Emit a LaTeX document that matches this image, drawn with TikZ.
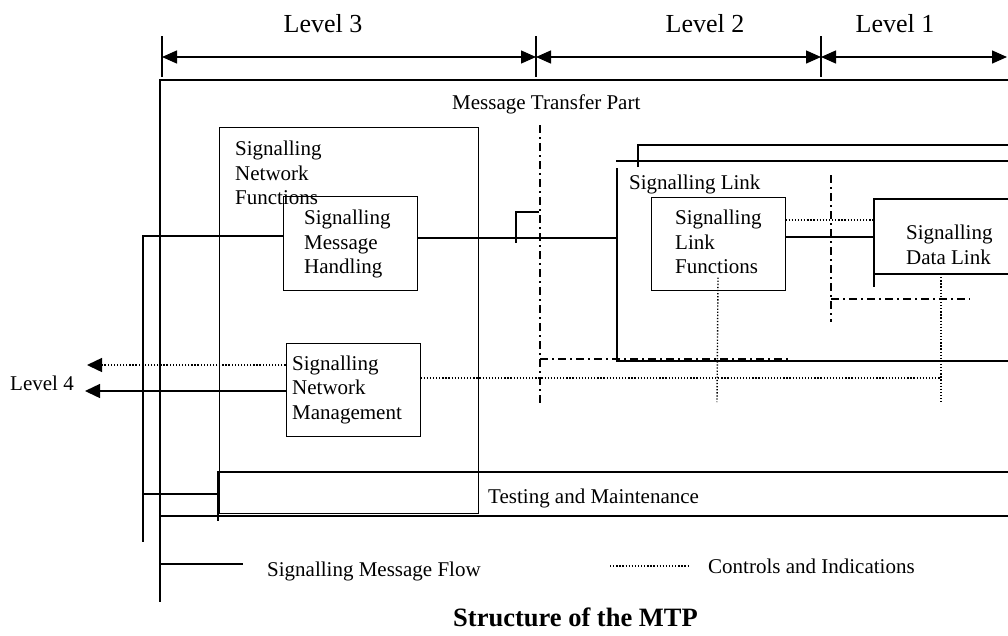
\documentclass[tikz,border=0pt]{standalone}
\usepackage{fontspec}
\setmainfont{Liberation Serif}
\usetikzlibrary{arrows.meta}
\begin{document}
\begin{tikzpicture}[x=1pt,y=-1pt,
  ln/.style={line width=1.4pt},
  bx/.style={draw, line width=1pt, inner sep=0pt},
  dotl/.style={line width=1.4pt, dash pattern=on 1.3pt off 1.8pt},
  dashdot/.style={line width=1.3pt, dash pattern=on 8pt off 4pt on 1.5pt off 4.5pt},
  lvl/.style={ln, {Triangle[length=15pt,width=13pt]}-{Triangle[length=15pt,width=13pt]}},
  txt/.style={inner sep=0pt, font=\fontsize{21}{24.5}\selectfont, align=left, anchor=north west},
  one/.style={inner sep=0pt, font=\fontsize{21}{24.5}\selectfont, anchor=base west},
  lvltxt/.style={inner sep=0pt, font=\fontsize{26}{30}\selectfont, anchor=base},
]
\useasboundingbox (0,0) rectangle (1008,635);

% ---- level bar
\coordinate (t3) at (162,57);
\coordinate (t2) at (536,57);
\coordinate (t1) at (821,57);
\coordinate (tE) at (1007,57);
\draw[ln] (162,36) -- (162,77) (536,36) -- (536,77) (821,36) -- (821,77);
\draw[lvl] (t3) -- (t2);
\draw[lvl] (t2) -- (t1);
\draw[lvl] (t1) -- (tE);
\node[lvltxt] (l3) at (323,32) {Level 3};
\node[lvltxt] (l2) at (705,32) {Level 2};
\node[lvltxt] (l1) at (895,32) {Level 1};

% ---- Message Transfer Part frame
\draw[ln] (1008,80) -- (160,80) -- (160,602);
\draw[ln] (160,516) -- (1008,516);
\node[one] (mtp) at (452,109) {Message Transfer Part};

% ---- Signalling Network Functions
\draw[line width=1pt] (219,127) rectangle (478,513);
\node[txt] (snf) at (235,141) {Signalling\\Network\\Functions};

\node[bx, minimum width=134pt, minimum height=94pt] (smh) at (350,243) {};
\node[txt] (smht) at (304,210) {Signalling\\Message\\Handling};

\node[bx, minimum width=134pt, minimum height=93pt] (snm) at (353,389.5) {};
\node[txt] (snmt) at (292,355.5) {Signalling\\Network\\Management};

% ---- Signalling Link
\draw[ln] (616,161) -- (1008,161);
\draw[ln] (638,167) -- (638,145) -- (1008,145);
\draw[ln] (617,168) -- (617,361) -- (1008,361);
\node[one] (slt) at (629,189) {Signalling Link};

\node[bx, minimum width=134pt, minimum height=93pt] (slf) at (718,243.5) {};
\node[txt] (slft) at (675,210) {Signalling\\Link\\Functions};

% ---- Signalling Data Link
\draw[ln] (1008,199) -- (874,199) -- (874,287);
\draw[ln] (874,274) -- (1008,274);
\node[txt] (sdlt) at (906,225) {Signalling\\Data Link};
\coordinate (sdlA) at (874,220);
\coordinate (sdlB) at (874,237);

% ---- Testing and Maintenance
\draw[ln] (1008,472) -- (218,472) -- (218,521);
\node[one] (tm) at (488,503) {Testing and Maintenance};

% ---- level boundaries (dash-dot)
\draw[dashdot] (540,125) -- (540,404);
\draw[dashdot] (540,359) -- (789,359);
\draw[dashdot] (831,175) -- (831,322);
\draw[dashdot] (831,299) -- (970,299);

% ---- message flow
\coordinate (bus) at (143,542);
\coordinate (busT) at (143,494);
\coordinate (tmL) at (218,494);
\coordinate (sl) at (617,238);
\draw[ln] ([yshift=7pt]smh.west) -| (bus);
\draw[ln] (busT) -- (tmL);
\draw[ln] ([yshift=5pt]smh.east) -- (sl);
\draw[ln] (539,212) -- (516,212) -- (516,243);
\draw[ln] ([yshift=6.5pt]slf.east) -- (sdlB);
\draw[dotl] ([yshift=23.5pt]slf.east) -- (sdlA);

% ---- level 4
\coordinate (l4a) at (85,391);
\coordinate (l4b) at (87,365);
\draw[ln,-{Triangle[length=15pt,width=14pt]}] ([yshift=-1.5pt]snm.west) -- (l4a);
\draw[dotl,-{Triangle[length=15pt,width=14pt]}] ([yshift=24.5pt]snm.west) -- (l4b);
\node[one] (l4) at (10,390) {Level 4};

% ---- controls and indications
\coordinate (ciR) at (941,378);
\draw[dotl] ([yshift=11.5pt]snm.east) -- (ciR);
\draw[dotl] (941,274) -- (941,404);
\draw[dotl] ([yshift=13pt]slf.south) -- (717,402);

% ---- legend
\coordinate (lgA) at (161,564);
\coordinate (lgB) at (243,564);
\draw[ln] (lgA) -- (lgB);
\node[one] (lgt1) at (267,576) {Signalling Message Flow};
\coordinate (lgC) at (610,566);
\coordinate (lgD) at (688,566);
\draw[dotl] (lgC) -- (lgD);
\node[one] (lgt2) at (708,573) {Controls and Indications};

\node[inner sep=0pt, font=\fontsize{26.5}{30}\selectfont\bfseries, anchor=base] (title) at (575.5,626) {Structure of the MTP};
\end{tikzpicture}
\end{document}
